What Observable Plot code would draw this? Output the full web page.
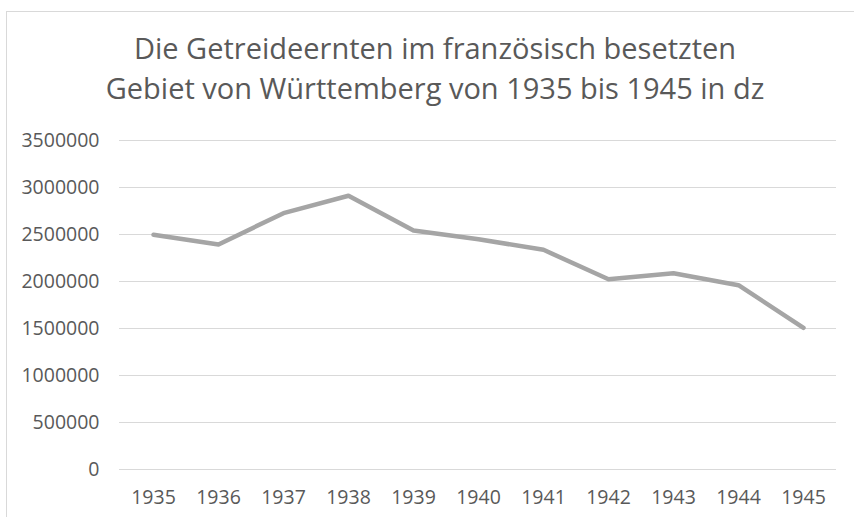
<!DOCTYPE html>
<html>
<head>
<meta charset="utf-8">
<script src="https://cdn.jsdelivr.net/npm/d3@7"></script>
<script src="https://cdn.jsdelivr.net/npm/@observablehq/plot@0.6"></script>
<style>
  html, body { margin: 0; padding: 0; background: #fff; }
  #wrap { position: relative; width: 854px; height: 517px; overflow: hidden; background: #fff; }
  #frame { position: absolute; left: 6px; top: 11px; width: 900px; height: 600px; border-left: 1px solid #d9d9d9; border-top: 1px solid #d9d9d9; }
  .title { position: absolute; left: 10px; width: 850px; height: 40px; text-align: center; font-family: "Open Sans", sans-serif; font-size: 29px; line-height: 40px; color: #595959; white-space: nowrap; }
  #t1 { top: 28px; }
  #t2 { top: 68px; }
  #chart { position: absolute; left: 0; top: 0; }
</style>
</head>
<body>
<div id="wrap">
  <div id="frame"></div>
  <div class="title" id="t1">Die Getreideernten im französisch besetzten</div>
  <div class="title" id="t2">Gebiet von Württemberg von 1935 bis 1945 in dz</div>
  <div id="chart"></div>
</div>
<script>
const years = ["1935","1936","1937","1938","1939","1940","1941","1942","1943","1944","1945"];
const harvest = [2497000, 2394000, 2727000, 2912000, 2543000, 2450000, 2337000, 2024000, 2088000, 1961000, 1507000];
const yTicks = [0, 500000, 1000000, 1500000, 2000000, 2500000, 3000000, 3500000];

const data = years.map((y, i) => ({year: y, value: harvest[i]}));

const plot = Plot.plot({
  width: 854,
  height: 517,
  marginLeft: 119,
  marginRight: 18,
  marginTop: 140,
  marginBottom: 48,
  style: { fontFamily: "Open Sans, sans-serif", fontSize: "19.5px", color: "#595959", background: "transparent" },
  x: { type: "point", domain: years, padding: 0.5, label: null },
  y: { domain: [0, 3500000], label: null },
  marks: [
    Plot.ruleY(yTicks, { stroke: "#d9d9d9", strokeWidth: 1.2 }),
    Plot.axisY({ ticks: yTicks, tickSize: 0, tickPadding: 20, tickFormat: d => String(d), label: null, fill: "#595959" }),
    Plot.axisX({ tickSize: 0, tickPadding: 20.5, label: null, fill: "#595959" }),
    Plot.line(data, { x: "year", y: "value", stroke: "#a5a5a5", strokeWidth: 4.5, strokeLinejoin: "round", strokeLinecap: "round" })
  ]
});
document.getElementById("chart").appendChild(plot);
</script>
</body>
</html>
